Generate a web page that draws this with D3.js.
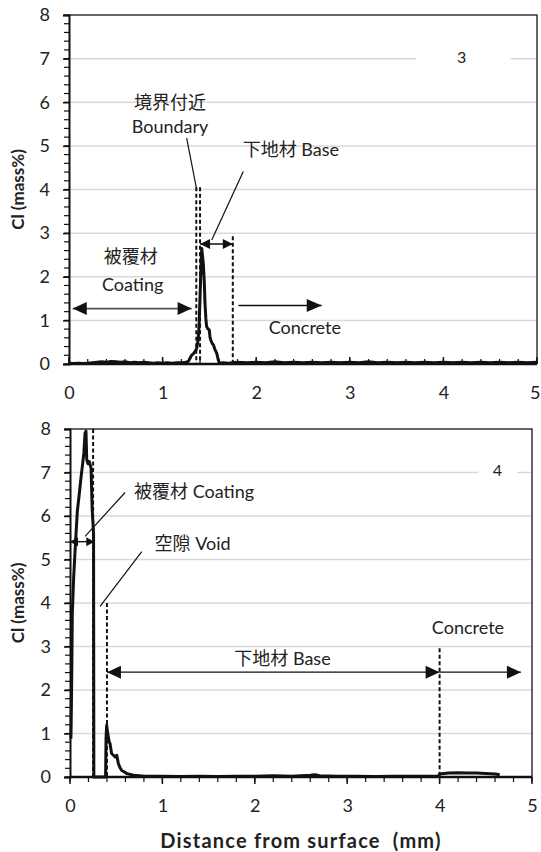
<!DOCTYPE html>
<html>
<head>
<meta charset="utf-8">
<script src="https://cdn.jsdelivr.net/npm/d3@7"></script>
<style>
  html, body { margin: 0; padding: 0; background: #fff; }
  svg text { font-family: Lato, "Noto Sans CJK JP", sans-serif; fill: #222; }
</style>
</head>
<body>
<svg id="chart" width="541" height="852"></svg>
<script>
// Chloride profiles (Cl mass%) versus distance from the surface (mm)
const xTicks = [0, 1, 2, 3, 4, 5];
const yTicks = [0, 1, 2, 3, 4, 5, 6, 7, 8];
const gridValues = [1, 2, 3, 4, 5, 6, 7];

// Specimen 3: coating over base layer, then concrete
const profile3 = [
  [0.00, 0.02], [0.05, 0.01], [0.10, 0.02], [0.15, 0.01], [0.20, 0.02], [0.25, 0.03],
  [0.30, 0.04], [0.35, 0.05], [0.40, 0.04], [0.45, 0.06], [0.50, 0.05], [0.55, 0.04],
  [0.60, 0.05], [0.65, 0.03], [0.70, 0.04], [0.75, 0.03], [0.80, 0.04], [0.85, 0.03],
  [0.90, 0.02], [0.95, 0.03], [1.00, 0.02], [1.05, 0.03], [1.10, 0.02], [1.15, 0.03],
  [1.20, 0.03], [1.25, 0.04], [1.275, 0.06], [1.29, 0.12], [1.31, 0.20], [1.33, 0.24],
  [1.346, 0.28], [1.364, 0.36], [1.38, 0.55], [1.39, 0.90], [1.40, 1.54], [1.41, 2.20],
  [1.418, 2.65], [1.425, 2.50], [1.435, 2.30], [1.445, 1.90], [1.453, 1.39], [1.462, 1.05],
  [1.47, 0.86], [1.485, 0.80], [1.499, 0.78], [1.506, 0.62], [1.514, 0.55], [1.53, 0.47],
  [1.542, 0.44], [1.56, 0.33], [1.578, 0.25], [1.592, 0.12], [1.606, 0.02], [1.65, 0.03],
  [1.70, 0.02], [1.80, 0.04], [1.90, 0.03], [2.00, 0.04], [2.10, 0.03], [2.20, 0.05],
  [2.30, 0.03], [2.40, 0.04], [2.50, 0.03], [2.60, 0.04], [2.70, 0.03], [2.80, 0.04],
  [2.90, 0.03], [3.00, 0.04], [3.10, 0.03], [3.20, 0.05], [3.30, 0.03], [3.40, 0.04],
  [3.50, 0.03], [3.60, 0.04], [3.70, 0.03], [3.80, 0.04], [3.90, 0.03], [4.00, 0.04],
  [4.10, 0.03], [4.20, 0.04], [4.30, 0.03], [4.40, 0.04], [4.50, 0.03], [4.60, 0.04],
  [4.70, 0.03], [4.80, 0.04], [4.90, 0.03], [5.00, 0.04]
];

// Specimen 4: coating, void, base layer, then concrete
const profile4 = [
  [0.010, 0.88], [0.015, 1.60], [0.020, 2.60], [0.025, 3.76], [0.040, 4.60], [0.060, 5.40],
  [0.079, 6.10], [0.100, 6.50], [0.120, 6.90], [0.138, 7.22], [0.150, 7.45], [0.163, 7.91],
  [0.173, 7.95], [0.181, 7.30], [0.195, 7.20], [0.209, 7.25], [0.228, 7.10], [0.240, 6.15],
  [0.255, 5.60], [0.258, 0.00], [0.300, 0.00], [0.350, 0.00], [0.385, 0.00], [0.390, 0.90],
  [0.397, 1.19], [0.405, 1.05], [0.415, 0.92], [0.425, 0.80], [0.433, 0.77], [0.450, 0.54],
  [0.470, 0.50], [0.488, 0.46], [0.506, 0.50], [0.515, 0.40], [0.523, 0.31], [0.540, 0.22],
  [0.560, 0.15], [0.585, 0.12], [0.614, 0.08], [0.650, 0.06], [0.686, 0.04], [0.750, 0.03],
  [0.800, 0.02], [1.000, 0.02], [1.200, 0.01], [1.400, 0.02], [1.600, 0.01], [1.800, 0.02],
  [2.000, 0.02], [2.200, 0.03], [2.400, 0.02], [2.600, 0.04], [2.650, 0.05], [2.700, 0.03],
  [2.900, 0.02], [3.100, 0.02], [3.300, 0.01], [3.500, 0.02], [3.700, 0.02], [3.900, 0.02],
  [3.990, 0.02], [4.000, 0.07], [4.050, 0.08], [4.100, 0.09], [4.200, 0.10], [4.300, 0.09],
  [4.400, 0.09], [4.500, 0.08], [4.600, 0.07], [4.650, 0.05]
];

// Layer boundaries: [distance, top of dashed marker in mass%]
const bounds3 = [[1.36, 4.05], [1.40, 4.05], [1.75, 2.93]];
const bounds4 = [[0.25, 8.0], [0.40, 4.0], [4.00, 2.96]];

const svg = d3.select("#chart");
const W = +svg.attr("width");

function arrowHead(g, x, y, dir, len, half) {
  // filled triangle pointing in dir (+1 right, -1 left), tip at (x, y)
  g.append("path")
    .attr("d", `M${x},${y} L${x - dir * len},${y - half} L${x - dir * len},${y + half} Z`)
    .attr("fill", "#111");
}

function hArrow(g, x0, x1, y, opts) {
  g.append("line")
    .attr("x1", x0).attr("x2", x1).attr("y1", y).attr("y2", y)
    .attr("stroke", opts.color || "#111").attr("stroke-width", opts.width || 1.4);
  if (opts.left) arrowHead(g, x0, y, -1, opts.len, opts.half);
  if (opts.right) arrowHead(g, x1, y, 1, opts.len, opts.half);
}

function drawPanel(p) {
  const x = d3.scaleLinear().domain([0, 5]).range([p.left, p.right]);
  const y = d3.scaleLinear().domain([0, 8]).range([p.bottom, p.top]);
  const g = svg.append("g");

  // horizontal gridlines
  g.selectAll("line.grid").data(gridValues).join("line")
    .attr("class", "grid")
    .attr("x1", p.left).attr("x2", p.right)
    .attr("y1", d => y(d)).attr("y2", d => y(d))
    .attr("stroke", "#d9d9d9").attr("stroke-width", 1.5);

  // plot frame (top and right edges)
  g.append("path")
    .attr("d", `M${p.left},${p.top} H${p.right} V${p.bottom}`)
    .attr("fill", "none").attr("stroke", "#333").attr("stroke-width", 1.5);

  // specimen number with white background
  const lab = g.append("g");
  lab.append("rect")
    .attr("x", x(p.tagBox[0])).attr("width", x(p.tagBox[1]) - x(p.tagBox[0]))
    .attr("y", y(p.tag[1]) - 8).attr("height", 16).attr("fill", "#fff");
  lab.append("text")
    .attr("x", x(p.tag[0])).attr("y", y(p.tag[1]))
    .attr("dy", "0.35em").attr("text-anchor", "middle")
    .attr("font-size", 16).text(p.label);

  // y axis with minor ticks
  const yMinor = d3.range(0, 8.001, 0.2);
  g.selectAll("line.ymin").data(yMinor).join("line")
    .attr("x1", p.left - 5).attr("x2", p.left)
    .attr("y1", d => y(d)).attr("y2", d => y(d))
    .attr("stroke", "#111").attr("stroke-width", 1.2);
  const yAxis = g.append("g").attr("transform", `translate(${p.left},0)`)
    .call(d3.axisLeft(y).tickValues(yTicks).tickFormat(d3.format("d")).tickSize(6).tickPadding(13));
  yAxis.select(".domain").attr("stroke", "#111").attr("stroke-width", 2);
  yAxis.selectAll(".tick line").attr("stroke", "#111").attr("stroke-width", 1.5);
  yAxis.selectAll(".tick text").attr("font-size", 18).attr("fill", "#222")
    .attr("font-family", "Lato, sans-serif");

  // x axis with minor ticks (inside for the upper panel, outside for the lower)
  const xMinor = d3.range(0, 5.001, 0.2);
  const s = p.ticksInside ? -1 : 1;
  g.selectAll("line.xmin").data(xMinor).join("line")
    .attr("x1", d => x(d)).attr("x2", d => x(d))
    .attr("y1", p.bottom).attr("y2", p.bottom + s * 5)
    .attr("stroke", "#111").attr("stroke-width", 1.2);
  g.selectAll("line.xmaj").data(xTicks).join("line")
    .attr("x1", d => x(d)).attr("x2", d => x(d))
    .attr("y1", p.bottom).attr("y2", p.bottom + s * 7)
    .attr("stroke", "#111").attr("stroke-width", 1.5);
  const xAxis = g.append("g").attr("transform", `translate(0,${p.bottom})`)
    .call(d3.axisBottom(x).tickValues(xTicks).tickFormat(d3.format("d")).tickSize(0).tickPadding(22));
  xAxis.select(".domain").remove();
  xAxis.selectAll(".tick text").attr("font-size", 18).attr("fill", "#222")
    .attr("font-family", "Lato, sans-serif");
  // keep the last label inside the page edge
  xAxis.selectAll(".tick text").filter(d => d === 5 && x(5) + 6 > W)
    .attr("text-anchor", "end").attr("x", W - x(5) - 1);

  // y axis title
  g.append("text")
    .attr("transform", `translate(18,${(p.top + p.bottom) / 2}) rotate(-90)`)
    .attr("text-anchor", "middle").attr("dy", "0.35em")
    .attr("font-size", 17).attr("font-weight", "bold").text("Cl (mass%)");

  // layer boundary markers
  g.selectAll("line.bound").data(p.bounds).join("line")
    .attr("x1", d => x(d[0])).attr("x2", d => x(d[0]))
    .attr("y1", d => y(d[1])).attr("y2", p.bottom)
    .attr("stroke", "#111").attr("stroke-width", 2).attr("stroke-dasharray", "4,2.5");

  // chloride profile
  const line = d3.line().x(d => x(d[0])).y(d => y(d[1]));
  g.append("path").datum(p.data)
    .attr("d", line).attr("fill", "none")
    .attr("stroke", "#111").attr("stroke-width", 3).attr("stroke-linejoin", "round");

  // axis baseline drawn over the profile
  g.append("line")
    .attr("x1", p.left).attr("x2", p.right).attr("y1", p.bottom).attr("y2", p.bottom)
    .attr("stroke", "#111").attr("stroke-width", 2.5);

  return { g, x, y };
}

// ---------- specimen 3 ----------
const P3 = drawPanel({
  left: 69, right: 537, top: 15, bottom: 364, ticksInside: true,
  data: profile3, bounds: bounds3, label: "3", tag: [4.195, 7.03], tagBox: [3.71, 4.72]
});
(function () {
  const { g, x, y } = P3;
  const txt = (dx, vy, t, size) => g.append("text")
    .attr("x", x(dx)).attr("y", y(vy)).attr("dy", "0.35em")
    .attr("text-anchor", "middle").attr("font-size", size || 18).text(t);
  txt(1.08, 5.99, "境界付近");
  txt(1.08, 5.44, "Boundary");
  txt(2.37, 4.91, "下地材 Base");
  txt(0.66, 2.45, "被覆材");
  txt(0.68, 1.82, "Coating");
  txt(2.52, 0.83, "Concrete");

  const leader = (a, b) => g.append("line")
    .attr("x1", x(a[0])).attr("y1", y(a[1])).attr("x2", x(b[0])).attr("y2", y(b[1]))
    .attr("stroke", "#111").attr("stroke-width", 1.2);
  leader([1.257, 5.18], [1.364, 4.0]);
  leader([1.862, 4.41], [1.525, 2.84]);

  hArrow(g, x(0.04), x(1.31), y(1.27), { left: true, right: true, len: 14, half: 6.5, color: "#555", width: 1.6 });
  hArrow(g, x(1.81), x(2.70), y(1.34), { right: true, len: 15, half: 6.5, width: 1.4 });
  hArrow(g, x(1.40), x(1.75), y(2.75), { left: true, right: true, len: 10, half: 5, width: 1.4 });
})();

// ---------- specimen 4 ----------
const P4 = drawPanel({
  left: 70, right: 532, top: 429, bottom: 777, ticksInside: false,
  data: profile4, bounds: bounds4, label: "4", tag: [4.626, 7.04], tagBox: [4.42, 4.84]
});
(function () {
  const { g, x, y } = P4;
  const txt = (dx, vy, t, size) => g.append("text")
    .attr("x", x(dx)).attr("y", y(vy)).attr("dy", "0.35em")
    .attr("text-anchor", "middle").attr("font-size", size || 18).text(t);
  txt(1.343, 6.55, "被覆材 Coating");
  txt(1.327, 5.36, "空隙 Void");
  txt(2.30, 2.71, "下地材 Base");
  txt(4.307, 3.43, "Concrete");

  const leader = (a, b) => g.append("line")
    .attr("x1", x(a[0])).attr("y1", y(a[1])).attr("x2", x(b[0])).attr("y2", y(b[1]))
    .attr("stroke", "#111").attr("stroke-width", 1.2);
  leader([0.596, 6.54], [0.163, 5.53]);
  leader([0.777, 5.18], [0.325, 3.92]);

  hArrow(g, x(0.0), x(0.263), y(5.41), { left: true, right: true, len: 8, half: 4.5, width: 1.4 });
  hArrow(g, x(0.40), x(4.0), y(2.41), { left: true, right: true, len: 14, half: 6.5, width: 1.4 });
  hArrow(g, x(4.0), x(4.88), y(2.41), { right: true, len: 14, half: 6.5, width: 1.4 });

  // x axis title
  svg.append("text")
    .attr("x", (x(0) + x(5)) / 2).attr("y", 841).attr("dy", "0.35em")
    .attr("text-anchor", "middle").attr("font-size", 20).attr("font-weight", "bold")
    .attr("letter-spacing", 1.2).style("white-space", "pre")
    .text("Distance from surface  (mm)");
})();
</script>
</body>
</html>
